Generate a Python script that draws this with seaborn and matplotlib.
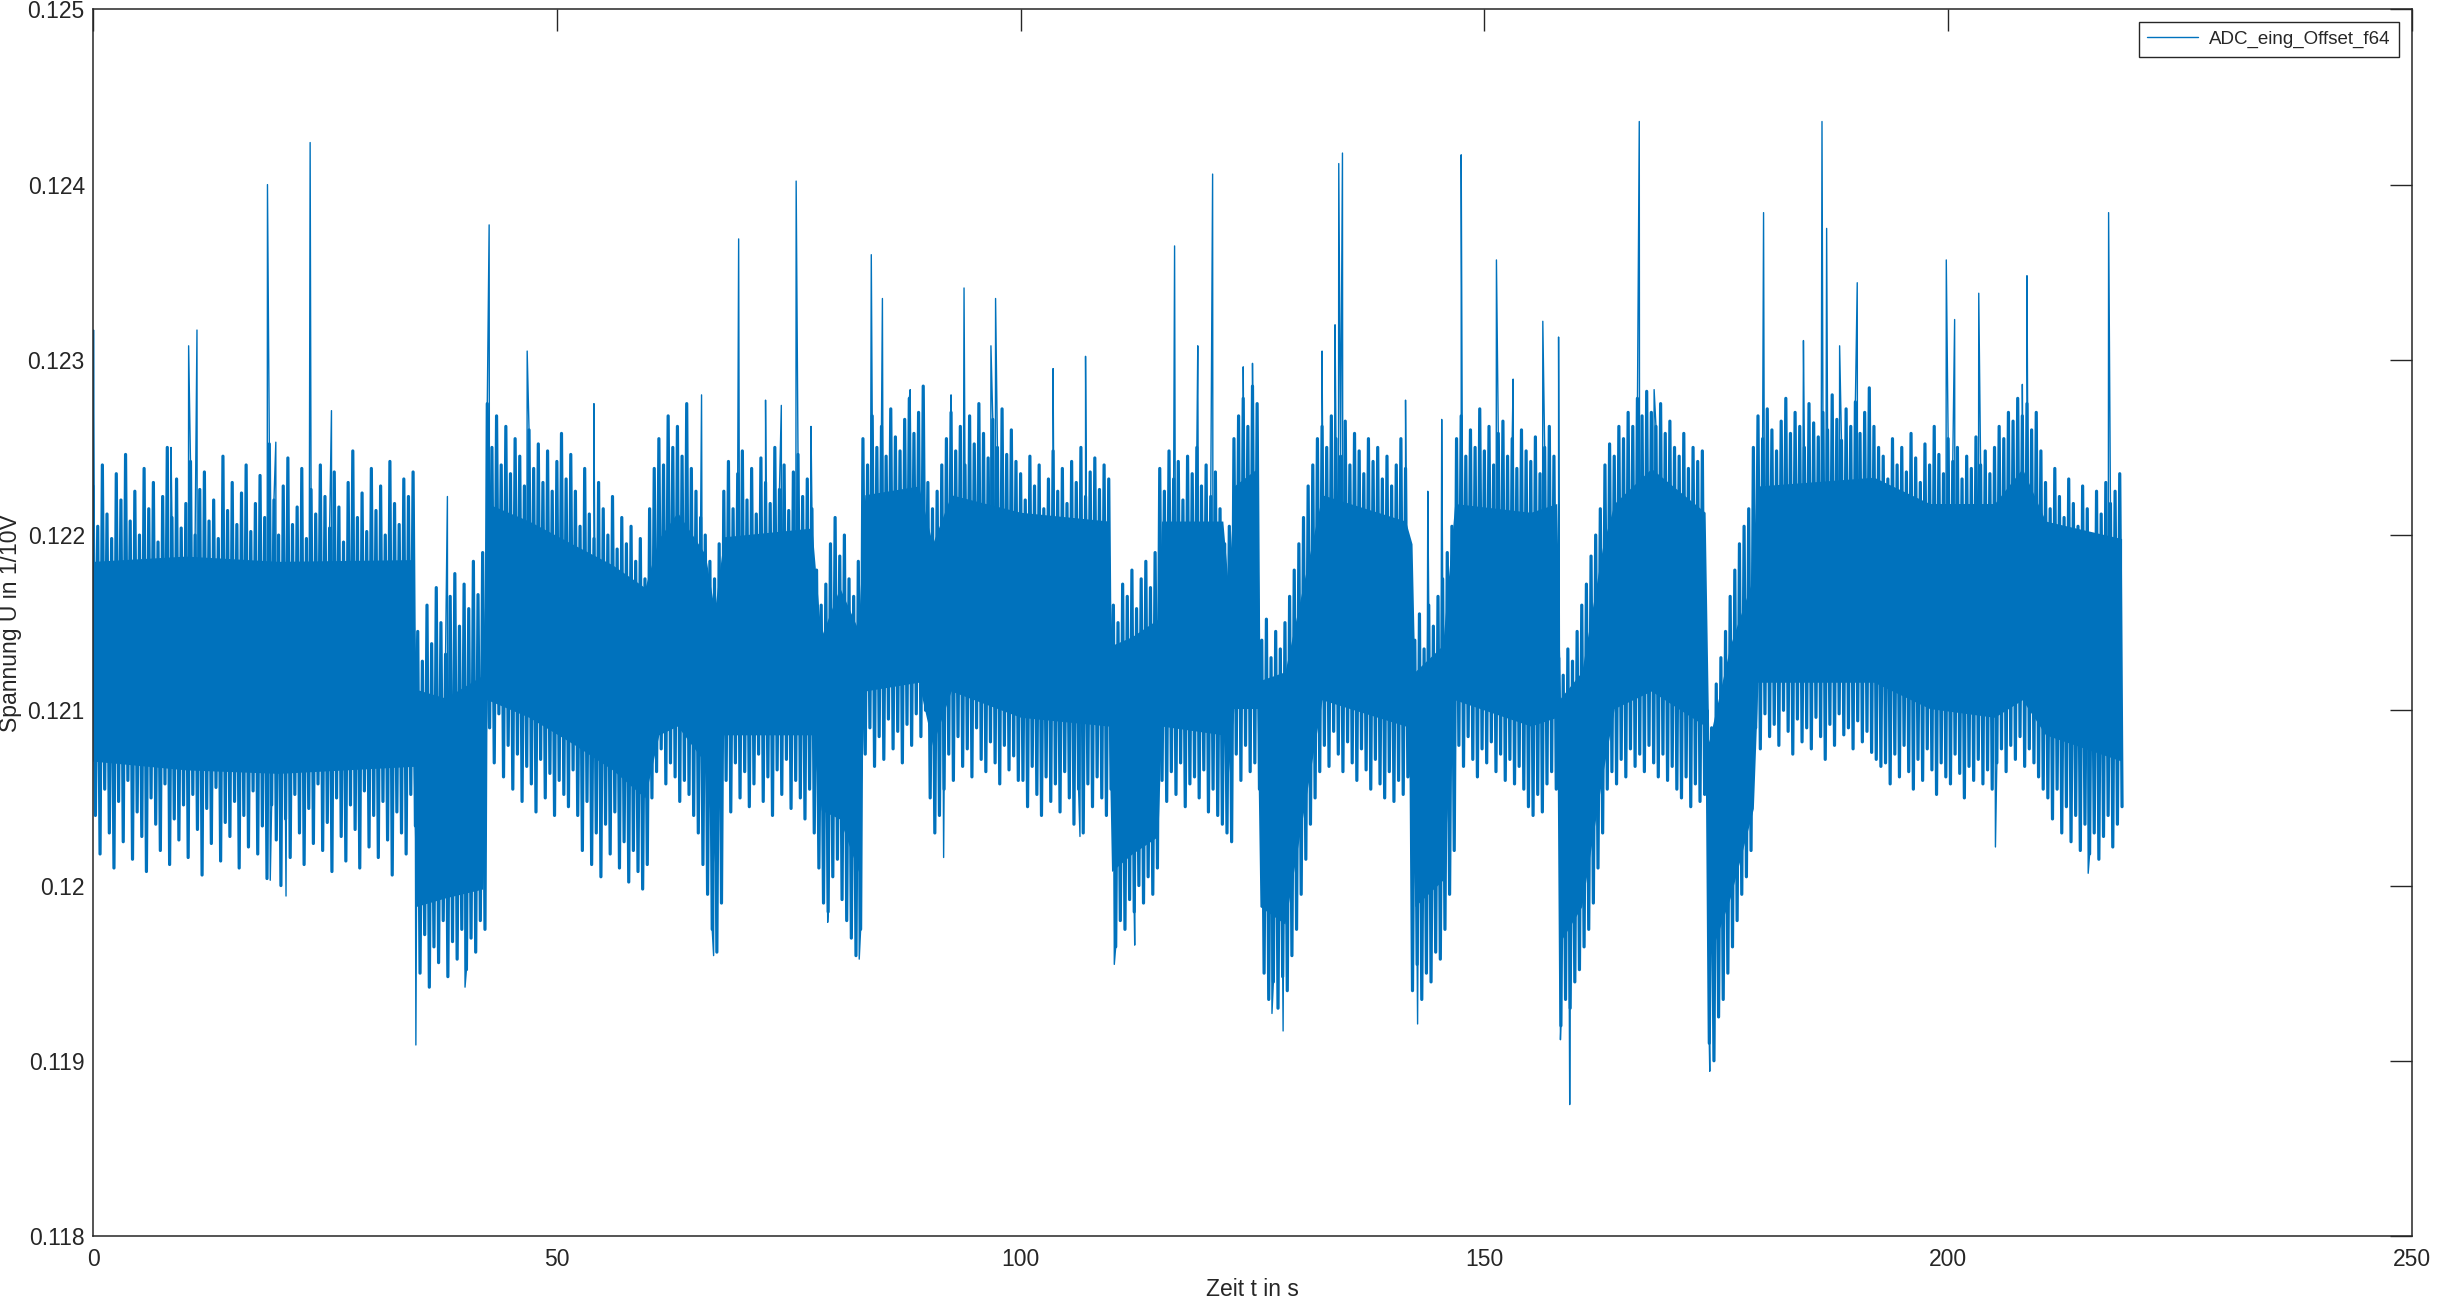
import numpy as np
import pandas as pd
import matplotlib
matplotlib.use("Agg")
import matplotlib.pyplot as plt
import seaborn as sns

# Messsignal: alle 0.5 s ein Maximum (bei t) und ein Minimum (bei t+0.25)
t_half = np.arange(0, 219, 0.5)
hi_half = [
    # 0 - 34.5 s
    0.12228, 0.12205, 0.12240, 0.12212, 0.12198, 0.12235, 0.12220, 0.12246, 0.12208, 0.12225,
    0.12200, 0.12238, 0.12215, 0.12230, 0.12196, 0.12222, 0.12250, 0.12210, 0.12232, 0.12204,
    0.12218, 0.12242, 0.12200, 0.12226, 0.12236, 0.12208, 0.12220, 0.12198, 0.12245, 0.12214,
    0.12230, 0.12206, 0.12224, 0.12240, 0.12202, 0.12218, 0.12234, 0.12210, 0.12252, 0.12220,
    0.12200, 0.12228, 0.12244, 0.12206, 0.12216, 0.12238, 0.12198, 0.12226, 0.12212, 0.12240,
    0.12222, 0.12204, 0.12236, 0.12216, 0.12196, 0.12230, 0.12248, 0.12210, 0.12224, 0.12202,
    0.12238, 0.12214, 0.12228, 0.12200, 0.12242, 0.12218, 0.12206, 0.12232, 0.12222, 0.12236,
    # 35 - 42 s
    0.12145, 0.12128, 0.12160, 0.12138, 0.12170, 0.12150, 0.12132, 0.12165, 0.12178, 0.12148,
    0.12172, 0.12158, 0.12185, 0.12166, 0.12190,
    # 42.5 - 51.5 s
    0.12275, 0.12250, 0.12268, 0.12240, 0.12262, 0.12235, 0.12255, 0.12245, 0.12228, 0.12260,
    0.12238, 0.12252, 0.12230, 0.12248, 0.12225, 0.12242, 0.12258, 0.12232, 0.12246,
    # 52 - 59.5 s
    0.12225, 0.12205, 0.12238, 0.12212, 0.12198, 0.12230, 0.12215, 0.12200, 0.12222, 0.12192,
    0.12210, 0.12195, 0.12205, 0.12185, 0.12198, 0.12175,
    # 60 - 66 s
    0.12215, 0.12238, 0.12255, 0.12240, 0.12268, 0.12250, 0.12262, 0.12245, 0.12275, 0.12238,
    0.12225, 0.12210, 0.12200,
    # 66.5 - 67.5 s
    0.12185, 0.12175, 0.12195,
    # 68 - 77.5 s
    0.12225, 0.12242, 0.12215, 0.12235, 0.12248, 0.12220, 0.12238, 0.12212, 0.12244, 0.12230,
    0.12218, 0.12250, 0.12226, 0.12240, 0.12214, 0.12236, 0.12246, 0.12222, 0.12232, 0.12215,
    # 78 - 82.5 s
    0.12180, 0.12160, 0.12172, 0.12195, 0.12210, 0.12188, 0.12200, 0.12175, 0.12165, 0.12185,
    # 83 - 89.5 s
    0.12255, 0.12240, 0.12268, 0.12250, 0.12262, 0.12245, 0.12272, 0.12256, 0.12248, 0.12266,
    0.12278, 0.12258, 0.12270, 0.12285,
    # 90 - 91.5 s
    0.12230, 0.12215, 0.12225, 0.12240,
    # 92 - 99.5 s
    0.12255, 0.12270, 0.12248, 0.12262, 0.12240, 0.12268, 0.12252, 0.12275, 0.12258, 0.12244,
    0.12266, 0.12250, 0.12272, 0.12246, 0.12260, 0.12242,
    # 100 - 109.5 s
    0.12235, 0.12220, 0.12245, 0.12228, 0.12240, 0.12215, 0.12232, 0.12248, 0.12225, 0.12238,
    0.12218, 0.12242, 0.12230, 0.12250, 0.12222, 0.12236, 0.12244, 0.12226, 0.12240, 0.12232,
    # 110 - 114.5 s
    0.12160, 0.12150, 0.12172, 0.12165, 0.12180, 0.12158, 0.12175, 0.12185, 0.12170, 0.12190,
    # 115 - 121.5 s
    0.12238, 0.12225, 0.12248, 0.12232, 0.12242, 0.12220, 0.12245, 0.12235, 0.12250, 0.12228,
    0.12240, 0.12222, 0.12236, 0.12215,
    # 122 - 122.5 s
    0.12195, 0.12205,
    # 123 - 125.5 s
    0.12255, 0.12268, 0.12278, 0.12262, 0.12285, 0.12275,
    # 126 - 128.5 s
    0.12140, 0.12152, 0.12130, 0.12145, 0.12135, 0.12150,
    # 129 - 132 s
    0.12165, 0.12180, 0.12195, 0.12210, 0.12228, 0.12240, 0.12255,
    # 132.5 - 141.5 s
    0.12262, 0.12250, 0.12268, 0.12255, 0.12245, 0.12265, 0.12240, 0.12258, 0.12248, 0.12235,
    0.12255, 0.12242, 0.12250, 0.12232, 0.12245, 0.12228, 0.12240, 0.12255, 0.12238,
    # 142 - 146.5 s
    0.12150, 0.12140, 0.12155, 0.12135, 0.12160, 0.12148, 0.12165, 0.12175, 0.12190, 0.12205,
    # 147 - 157.5 s
    0.12255, 0.12268, 0.12245, 0.12260, 0.12250, 0.12272, 0.12248, 0.12262, 0.12240, 0.12258,
    0.12265, 0.12245, 0.12255, 0.12238, 0.12260, 0.12248, 0.12242, 0.12256, 0.12235, 0.12250,
    0.12262, 0.12245,
    # 158 - 162.5 s
    0.12130, 0.12120, 0.12135, 0.12128, 0.12145, 0.12160, 0.12172, 0.12188, 0.12200, 0.12215,
    # 163 - 173.5 s
    0.12240, 0.12252, 0.12245, 0.12262, 0.12255, 0.12270, 0.12262, 0.12278, 0.12268, 0.12282,
    0.12270, 0.12262, 0.12275, 0.12258, 0.12265, 0.12250, 0.12245, 0.12258, 0.12238, 0.12250,
    0.12242, 0.12248,
    # 174 - 178.5 s
    0.12100, 0.12090, 0.12115, 0.12130, 0.12145, 0.12165, 0.12180, 0.12195, 0.12205, 0.12215,
    # 179 - 192.5 s
    0.12250, 0.12268, 0.12255, 0.12272, 0.12260, 0.12248, 0.12265, 0.12278, 0.12258, 0.12270,
    0.12262, 0.12250, 0.12275, 0.12264, 0.12256, 0.12270, 0.12260, 0.12280, 0.12266, 0.12254,
    0.12272, 0.12262, 0.12276, 0.12258, 0.12270, 0.12284, 0.12262, 0.12250,
    # 193 - 204.5 s
    0.12245, 0.12232, 0.12255, 0.12240, 0.12250, 0.12236, 0.12258, 0.12244, 0.12230, 0.12252,
    0.12240, 0.12262, 0.12246, 0.12235, 0.12255, 0.12242, 0.12250, 0.12232, 0.12245, 0.12238,
    0.12256, 0.12240, 0.12248, 0.12235,
    # 205 - 210 s
    0.12250, 0.12262, 0.12255, 0.12270, 0.12265, 0.12278, 0.12268, 0.12275, 0.12260, 0.12270,
    0.12248,
    # 210.5 - 218.5 s
    0.12230, 0.12215, 0.12238, 0.12222, 0.12210, 0.12232, 0.12218, 0.12205, 0.12228, 0.12215,
    0.12200, 0.12225, 0.12212, 0.12230, 0.12218, 0.12225, 0.12235,
]
lo_half = [
    # 0 - 34.5 s
    0.12040, 0.12018, 0.12055, 0.12030, 0.12010, 0.12048, 0.12025, 0.12060, 0.12015, 0.12042,
    0.12028, 0.12008, 0.12050, 0.12035, 0.12020, 0.12058, 0.12012, 0.12038, 0.12026, 0.12046,
    0.12016, 0.12052, 0.12032, 0.12006, 0.12044, 0.12024, 0.12056, 0.12014, 0.12036, 0.12028,
    0.12048, 0.12010, 0.12040, 0.12022, 0.12054, 0.12018, 0.12034, 0.12004, 0.12046, 0.12026,
    0.12000, 0.12038, 0.12016, 0.12052, 0.12030, 0.12012, 0.12044, 0.12024, 0.12058, 0.12020,
    0.12036, 0.12008, 0.12050, 0.12028, 0.12014, 0.12046, 0.12032, 0.12010, 0.12054, 0.12022,
    0.12040, 0.12016, 0.12048, 0.12026, 0.12006, 0.12042, 0.12030, 0.12018, 0.12052, 0.12034,
    # 35 - 42 s
    0.11950, 0.11972, 0.11942, 0.11965, 0.11956, 0.11980, 0.11948, 0.11968, 0.11958, 0.11975,
    0.11952, 0.11970, 0.11962, 0.11980, 0.11975,
    # 42.5 - 51.5 s
    0.12090, 0.12070, 0.12098, 0.12062, 0.12080, 0.12055, 0.12075, 0.12048, 0.12068, 0.12058,
    0.12042, 0.12072, 0.12050, 0.12064, 0.12040, 0.12060, 0.12052, 0.12045, 0.12066,
    # 52 - 59.5 s
    0.12040, 0.12020, 0.12048, 0.12012, 0.12030, 0.12005, 0.12035, 0.12018, 0.12042, 0.12010,
    0.12025, 0.12002, 0.12020, 0.12008, 0.11998, 0.12012,
    # 60 - 66 s
    0.12050, 0.12065, 0.12078, 0.12058, 0.12070, 0.12062, 0.12048, 0.12060, 0.12052, 0.12040,
    0.12030, 0.12012, 0.11995,
    # 66.5 - 67.5 s
    0.11975, 0.11962, 0.11990,
    # 68 - 77.5 s
    0.12060, 0.12042, 0.12070, 0.12050, 0.12065, 0.12045, 0.12058, 0.12075, 0.12048, 0.12062,
    0.12040, 0.12066, 0.12052, 0.12072, 0.12044, 0.12060, 0.12050, 0.12038, 0.12055, 0.12030,
    # 78 - 82.5 s
    0.12010, 0.11990, 0.11985, 0.12005, 0.12015, 0.11992, 0.11980, 0.11970, 0.11960, 0.11975,
    # 83 - 89.5 s
    0.12075, 0.12090, 0.12068, 0.12085, 0.12072, 0.12095, 0.12078, 0.12088, 0.12070, 0.12092,
    0.12080, 0.12098, 0.12085, 0.12100,
    # 90 - 91.5 s
    0.12050, 0.12030, 0.12040, 0.12055,
    # 92 - 99.5 s
    0.12075, 0.12060, 0.12085, 0.12068, 0.12078, 0.12062, 0.12090, 0.12072, 0.12065, 0.12082,
    0.12070, 0.12058, 0.12080, 0.12066, 0.12074, 0.12060,
    # 100 - 109.5 s
    0.12060, 0.12045, 0.12068, 0.12052, 0.12040, 0.12062, 0.12048, 0.12058, 0.12042, 0.12065,
    0.12050, 0.12035, 0.12055, 0.12030, 0.12058, 0.12045, 0.12062, 0.12050, 0.12040, 0.12055,
    # 110 - 114.5 s
    0.11965, 0.11980, 0.11975, 0.11992, 0.11985, 0.12000, 0.11990, 0.12005, 0.11995, 0.12010,
    # 115 - 121.5 s
    0.12060, 0.12048, 0.12065, 0.12052, 0.12070, 0.12045, 0.12058, 0.12062, 0.12050, 0.12066,
    0.12042, 0.12055, 0.12040, 0.12035,
    # 122 - 122.5 s
    0.12030, 0.12025,
    # 123 - 125.5 s
    0.12075, 0.12060, 0.12080, 0.12065, 0.12070, 0.12055,
    # 126 - 128.5 s
    0.11950, 0.11935, 0.11945, 0.11930, 0.11948, 0.11940,
    # 129 - 132 s
    0.11960, 0.11975, 0.11995, 0.12015, 0.12035, 0.12050, 0.12065,
    # 132.5 - 141.5 s
    0.12080, 0.12068, 0.12088, 0.12075, 0.12065, 0.12082, 0.12070, 0.12060, 0.12078, 0.12066,
    0.12055, 0.12072, 0.12058, 0.12050, 0.12065, 0.12048, 0.12060, 0.12052, 0.12062,
    # 142 - 146.5 s
    0.11940, 0.11955, 0.11935, 0.11950, 0.11945, 0.11962, 0.11958, 0.11975, 0.11995, 0.12020,
    # 147 - 157.5 s
    0.12080, 0.12068, 0.12085, 0.12072, 0.12062, 0.12078, 0.12070, 0.12082, 0.12065, 0.12075,
    0.12060, 0.12072, 0.12058, 0.12068, 0.12055, 0.12045, 0.12040, 0.12052, 0.12042, 0.12058,
    0.12065, 0.12055,
    # 158 - 162.5 s
    0.11920, 0.11935, 0.11930, 0.11945, 0.11952, 0.11965, 0.11975, 0.11990, 0.12010, 0.12030,
    # 163 - 173.5 s
    0.12055, 0.12065, 0.12058, 0.12072, 0.12062, 0.12078, 0.12068, 0.12075, 0.12065, 0.12080,
    0.12070, 0.12062, 0.12075, 0.12060, 0.12068, 0.12055, 0.12050, 0.12062, 0.12045, 0.12058,
    0.12048, 0.12052,
    # 174 - 178.5 s
    0.11910, 0.11900, 0.11925, 0.11935, 0.11950, 0.11965, 0.11980, 0.11995, 0.12005, 0.12020,
    # 179 - 192.5 s
    0.12090, 0.12078, 0.12098, 0.12085, 0.12092, 0.12080, 0.12100, 0.12088, 0.12075, 0.12095,
    0.12082, 0.12090, 0.12078, 0.12096, 0.12085, 0.12072, 0.12092, 0.12080, 0.12098, 0.12086,
    0.12090, 0.12078, 0.12094, 0.12082, 0.12088, 0.12076, 0.12072, 0.12068,
    # 193 - 204.5 s
    0.12070, 0.12058, 0.12075, 0.12062, 0.12080, 0.12065, 0.12055, 0.12072, 0.12060, 0.12078,
    0.12066, 0.12052, 0.12070, 0.12062, 0.12058, 0.12075, 0.12064, 0.12050, 0.12068, 0.12060,
    0.12072, 0.12058, 0.12066, 0.12055,
    # 205 - 210 s
    0.12070, 0.12078, 0.12065, 0.12080, 0.12072, 0.12085, 0.12068, 0.12078, 0.12070, 0.12062,
    0.12055,
    # 210.5 - 218.5 s
    0.12050, 0.12038, 0.12055, 0.12030, 0.12045, 0.12025, 0.12040, 0.12020, 0.12035, 0.12018,
    0.12030, 0.12015, 0.12028, 0.12040, 0.12022, 0.12035, 0.12045,
]

# dichter Kern des Signals (obere / untere Grenze)
core_t = [0, 10, 20, 34.5, 34.8, 38, 42.0, 42.5, 47, 52, 56, 59.5, 61, 63, 66, 67, 68,
          77.5, 78.5, 80.5, 82.5, 83.2, 89, 90.5, 92.5, 100, 109.5, 109.8, 112, 114.8,
          115.2, 121.8, 122.4, 123, 125.5, 125.8, 128.5, 132.5, 141.5, 142.2, 142.5,
          145.5, 146.8, 155, 157.8, 158.2, 160.5, 162.8, 164, 168, 173.8, 174.2, 176.5,
          179, 179.5, 192, 198, 205, 208, 210.5, 218.7]
core_hi = [0.12185, 0.12188, 0.12185, 0.12186, 0.12112, 0.12107, 0.12120, 0.12218, 0.12208,
           0.12194, 0.12183, 0.12170, 0.12198, 0.12213, 0.12189, 0.12157, 0.12199,
           0.12204, 0.12142, 0.12170, 0.12146, 0.12223, 0.12228, 0.12195, 0.12223,
           0.12213, 0.12208, 0.12137, 0.12142, 0.12152, 0.12208, 0.12208, 0.12171,
           0.12228, 0.12238, 0.12117, 0.12122, 0.12223, 0.12208, 0.12195, 0.12122,
           0.12137, 0.12218, 0.12213, 0.12218, 0.12107, 0.12122, 0.12195, 0.12218,
           0.12238, 0.12213, 0.12082, 0.12137, 0.12176, 0.12228, 0.12233, 0.12218,
           0.12218, 0.12238, 0.12208, 0.12198]
core_lo = [0.12071, 0.12066, 0.12064, 0.12068, 0.11988, 0.11993, 0.11998, 0.12106, 0.12096,
           0.12080, 0.12066, 0.12050, 0.12086, 0.12091, 0.12070, 0.12013, 0.12086,
           0.12086, 0.12043, 0.12038, 0.12008, 0.12111, 0.12116, 0.12080, 0.12111,
           0.12096, 0.12091, 0.12008, 0.12018, 0.12028, 0.12091, 0.12086, 0.12064,
           0.12101, 0.12101, 0.11988, 0.11978, 0.12106, 0.12091, 0.12075, 0.11988,
           0.12003, 0.12106, 0.12091, 0.12096, 0.11968, 0.11988, 0.12065, 0.12101,
           0.12111, 0.12091, 0.11958, 0.11993, 0.12044, 0.12116, 0.12116, 0.12101,
           0.12096, 0.12106, 0.12086, 0.12071]

# einzelne Ausreisser
spike_t = [0.05, 8.4, 10.3, 11.2, 18.8, 19.7, 23.4, 25.7, 38.2, 42.7, 46.8, 54.0, 65.6,
           69.6, 72.5, 74.2, 75.8, 77.4, 83.9, 85.1, 88.1, 92.5, 93.9, 96.8, 97.3, 103.5,
           107.0, 116.6, 119.1, 120.7, 124.0, 125.0, 132.5, 133.9, 134.3, 134.7, 141.5,
           143.9, 145.4, 147.5, 151.3, 153.1, 156.3, 158.0, 166.7, 168.3, 180.1, 184.4,
           186.4, 186.9, 188.3, 190.2, 199.8, 200.7, 203.3, 208.0, 208.5, 217.3,
           19.1, 20.8, 34.8, 40.1, 66.9, 79.2, 82.6, 91.7, 106.4, 110.1, 112.3, 127.1,
           128.3, 142.8, 158.2, 159.2, 174.3, 176.8, 205.1, 215.1]
spike_v = [0.12317, 0.12250, 0.12308, 0.12317, 0.12400, 0.12253, 0.12424, 0.12271, 0.12222,
           0.12377, 0.12305, 0.12275, 0.12280, 0.12369, 0.12277, 0.12274, 0.12402, 0.12262,
           0.12360, 0.12335, 0.12283, 0.12280, 0.12341, 0.12308, 0.12335, 0.12295, 0.12302,
           0.12365, 0.12308, 0.12406, 0.12296, 0.12298, 0.12305, 0.12320, 0.12412, 0.12418,
           0.12277, 0.12225, 0.12266, 0.12417, 0.12357, 0.12289, 0.12322, 0.12313, 0.12436,
           0.12283, 0.12384, 0.12311, 0.12436, 0.12375, 0.12308, 0.12344, 0.12357, 0.12323,
           0.12338, 0.12286, 0.12348, 0.12384,
           0.12003, 0.11994, 0.11909, 0.11942, 0.11960, 0.11979, 0.11958, 0.12016, 0.12028,
           0.11955, 0.11966, 0.11927, 0.11917, 0.11921, 0.11912, 0.11875, 0.11894, 0.11988,
           0.12022, 0.12007]

# Max bei t, Min bei t+0.25
x_env = np.concatenate([t_half, t_half + 0.25])
y_env = np.concatenate([hi_half, lo_half])
o = np.argsort(x_env, kind="stable")
env = pd.DataFrame({"t": x_env[o], "u": y_env[o]})

# gleiche Kurve mit einsortierten Ausreissern
x = np.concatenate([x_env, spike_t])
y = np.concatenate([y_env, spike_v])
order = np.argsort(x, kind="stable")
df = pd.DataFrame({"t": x[order], "u": y[order]})

blue = "#0072BD"
dark = "#262626"

sns.set_style("white")
plt.rcParams["font.family"] = ["Liberation Sans", "DejaVu Sans"]

fig = plt.figure(figsize=(24.37, 12.99), dpi=100)
ax = fig.add_axes([0.0382, 0.0485, 0.9515, 0.9443])

ax.fill_between(core_t, core_lo, core_hi, color=blue, lw=0)
# breite Striche fuer das dichte Rauschband
sns.lineplot(data=env, x="t", y="u", sort=False, estimator=None, color=blue, lw=2.3,
             legend=False, ax=ax)
sns.lineplot(data=df, x="t", y="u", sort=False, estimator=None, color=blue, lw=1.0,
             label="ADC_eing_Offset_f64", ax=ax)

ax.set_xlim(0, 250)
ax.set_ylim(0.118, 0.125)
ax.set_xticks([0, 50, 100, 150, 200, 250])
ax.set_yticks([0.118, 0.119, 0.120, 0.121, 0.122, 0.123, 0.124, 0.125])
ax.set_yticklabels(["0.118", "0.119", "0.12", "0.121", "0.122", "0.123", "0.124", "0.125"])
ax.tick_params(direction="in", length=16, width=1, top=True, right=True,
               labelsize=16.5, colors=dark, pad=6)
ax.tick_params(axis="x", pad=9)
for s in ax.spines.values():
    s.set_color(dark)
    s.set_linewidth(1.1)

ax.set_xlabel("Zeit t in s", fontsize=16.5, color=dark, labelpad=5)
ax.set_ylabel("Spannung U in 1/10V", fontsize=16.5, color=dark, labelpad=4)

leg = ax.legend(loc="upper right", fontsize=13.5, frameon=True, fancybox=False,
                edgecolor=dark, framealpha=1, borderaxespad=0.7, handlelength=2.7,
                handletextpad=0.6, borderpad=0.45)
leg.get_frame().set_linewidth(1.0)

fig.savefig("out.png", dpi=100)
